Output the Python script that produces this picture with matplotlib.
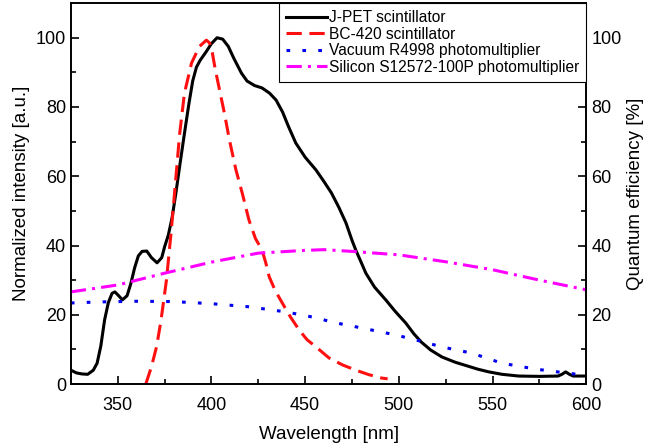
import matplotlib
matplotlib.use('Agg')
import matplotlib.pyplot as plt

plt.rcParams['font.family'] = ['Liberation Sans', 'DejaVu Sans']

# J-PET scintillator emission
jpet_wl = [325, 328, 331, 334, 337, 339, 341, 343, 345, 347, 348.5, 350.5, 352.5, 355, 357,
           359, 361, 363, 365.5, 368, 371, 373.5, 375, 377, 379, 381, 383, 385.5, 388, 390, 392,
           394, 397, 400, 403, 406, 409, 412, 416, 419, 423, 427, 431, 434.5, 438, 441, 445,
           450, 455.8, 460, 464, 468, 471.8, 475, 477, 480, 482.4, 487, 493, 498, 503.7, 508,
           512, 517, 523, 530, 536, 542, 548, 555, 564, 575, 585, 587, 589, 591, 593, 600]
jpet_val = [4.0, 3.2, 2.9, 2.8, 4.0, 6, 11, 18.5, 23.5, 26.2, 26.6, 25.5, 24.3, 25.5, 29,
            33.5, 37, 38.3, 38.4, 36.5, 35, 36.5, 39.6, 43, 48, 55, 62.7, 72, 81, 87.5, 91.5,
            93.5, 95.8, 98.3, 100, 99.6, 97.5, 94, 89.8, 87.5, 86.2, 85.5, 84, 82, 78.5, 74.5, 69.6,
            65.5, 61.8, 58.5, 55.2, 51, 46.5, 41.5, 38.7, 35, 32, 28, 24.3, 21, 17.6, 14.5,
            12.1, 9.8, 7.8, 6.3, 5.3, 4.3, 3.5, 2.8, 2.3, 2.2, 2.3, 2.8, 3.5, 2.8, 2.3, 2.3]

# BC-420 scintillator emission
bc_wl = [365, 368, 370.7, 373, 376, 378.7, 380.3, 383, 385.6, 389.4, 393.6, 397.3, 399, 400.5,
         402, 404.3, 407, 409.6, 413, 416.5, 420, 423.5, 427, 429, 430.8, 434, 437.8, 442,
         446.8, 451, 455.8, 462.8, 470, 477, 484, 491, 494]
bc_val = [0, 5, 10.7, 18, 30, 45, 55, 72, 84, 92.7, 97.5, 99.3, 98.5, 95.6,
          91, 85, 78, 70.5, 62, 55, 47.4, 42, 38.7, 35, 31, 27, 23.4, 19.5,
          15.6, 12.8, 10.7, 7.5, 5.5, 4, 2.7, 1.7, 1.5]

# quantum efficiencies
vac_wl = [325, 340, 360, 380, 400, 420, 440, 457, 464, 480, 498, 510, 523, 539, 555, 573, 589, 600]
vac_qe = [23.4, 23.7, 23.9, 23.8, 23.2, 22.3, 20.8, 19, 17.9, 16.2, 14.2, 12.6, 10.7, 8.9, 6, 4.3, 3.2, 2.5]

si_wl = [325, 350, 375, 400, 425, 450, 460, 475, 500, 525, 550, 575, 600]
si_qe = [26.6, 28.6, 32, 35.2, 37.8, 38.6, 38.8, 38.3, 37.3, 35.3, 33, 30, 27.2]

fig, ax = plt.subplots(figsize=(6.5, 4.46), dpi=100)
fig.subplots_adjust(left=0.109, right=0.902, bottom=0.139, top=0.993)
ax2 = ax.twinx()

lw = 2.2
l1, = ax.plot(jpet_wl, jpet_val, color='black', lw=lw, solid_joinstyle='round',
              label='J-PET scintillator')
l2, = ax.plot(bc_wl, bc_val, color='#ff1010', lw=lw, linestyle=(0, (5, 2.5)), label='BC-420 scintillator')
l3, = ax2.plot(vac_wl, vac_qe, color='#0000ee', lw=lw, linestyle=(0, (1.2, 4)),
               label='Vacuum R4998 photomultiplier')
l4, = ax2.plot(si_wl, si_qe, color='#ff00ff', lw=lw, linestyle=(0, (5, 2, 1, 2)),
               label='Silicon S12572-100P photomultiplier')

for a in (ax, ax2):
    a.set_xlim(325, 600)
    a.set_ylim(0, 110)
    a.set_yticks([0, 20, 40, 60, 80, 100])
    a.set_yticks([10, 30, 50, 70, 90], minor=True)
    a.tick_params(which='both', direction='in', labelsize=13, width=1.2)
    a.tick_params(which='major', length=6)
    a.tick_params(which='minor', length=3.5)
    for s in a.spines.values():
        s.set_linewidth(1.2)

ax.set_xticks([350, 400, 450, 500, 550, 600])
ax.set_xticks([375, 425, 475, 525, 575], minor=True)
ax.tick_params(axis='x', pad=9)

ax.set_xlabel('Wavelength [nm]', fontsize=13.5, labelpad=9)
ax.set_ylabel('Normalized intensity [a.u.]', fontsize=13.5)
ax2.set_ylabel('Quantum efficiency [%]', fontsize=13.5)

leg = ax2.legend(handles=[l1, l2, l3, l4], loc='upper right', fontsize=11.2,
                 borderaxespad=0, fancybox=False, framealpha=1, edgecolor='black',
                 handlelength=2.6, handletextpad=0.15, labelspacing=0.1, borderpad=0.45)
leg.get_frame().set_linewidth(0.8)

fig.savefig('out.png', dpi=100)
